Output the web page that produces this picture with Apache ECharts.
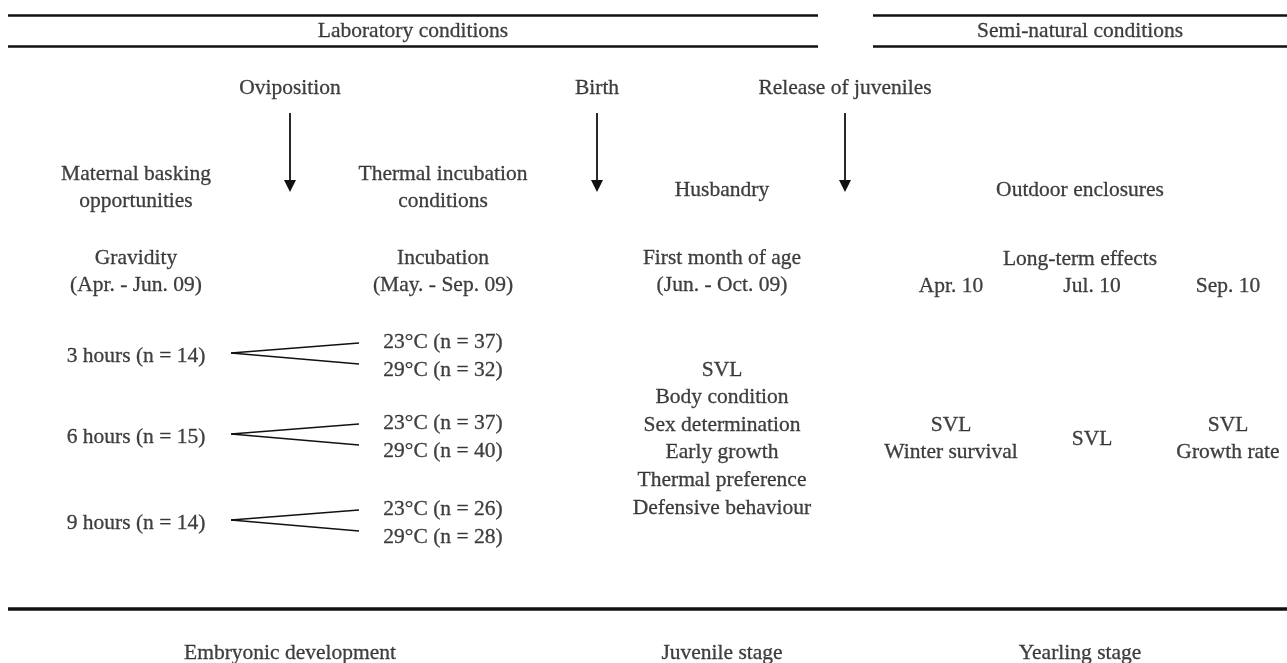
<!DOCTYPE html>
<html>
<head>
<meta charset="utf-8">
<script src="https://cdn.jsdelivr.net/npm/echarts@6/dist/echarts.min.js"></script>
<style>
  html, body { margin: 0; padding: 0; background: #fff; }
  #main { width: 1287px; height: 663px; }
</style>
</head>
<body>
<div id="main"></div>
<script>
// texts of the diagram
var sectionTitles = ['Laboratory conditions', 'Semi-natural conditions'];
var events = ['Oviposition', 'Birth', 'Release of juveniles'];
var factorTitles = ['Maternal basking\nopportunities', 'Thermal incubation\nconditions', 'Husbandry', 'Outdoor enclosures'];
var periodTitles = ['Gravidity\n(Apr. - Jun. 09)', 'Incubation\n(May. - Sep. 09)', 'First month of age\n(Jun. - Oct. 09)', 'Long-term effects'];
var outdoorDates = ['Apr. 10', 'Jul. 10', 'Sep. 10'];
var baskingGroups = ['3 hours (n = 14)', '6 hours (n = 15)', '9 hours (n = 14)'];
var incubationGroups = [
  ['23°C (n = 37)', '29°C (n = 32)'],
  ['23°C (n = 37)', '29°C (n = 40)'],
  ['23°C (n = 26)', '29°C (n = 28)']
];
var juvenileTraits = ['SVL', 'Body condition', 'Sex determination', 'Early growth', 'Thermal preference', 'Defensive behaviour'];
var outdoorTraits = ['SVL\nWinter survival', 'SVL', 'SVL\nGrowth rate'];
var stages = ['Embryonic development', 'Juvenile stage', 'Yearling stage'];

// layout on the hidden axes (x right, y down, in px of the picture)
var colBask = 136, colInc = 443, colJuv = 722, colOut = 1080;
var dateCols = [951, 1092, 1228];
var arrowCols = [290, 597, 845];
var groupRows = [356, 437, 523];

var texts = [];
function put(x, y, t) { texts.push({ value: [x, y], label: { formatter: t } }); }

put(413, 31, sectionTitles[0]);
put(1080, 31, sectionTitles[1]);
events.forEach(function (t, i) { put(arrowCols[i], 88, t); });
put(colBask, 188, factorTitles[0]);
put(colInc, 188, factorTitles[1]);
put(colJuv, 190, factorTitles[2]);
put(colOut, 190, factorTitles[3]);
put(colBask, 272, periodTitles[0]);
put(colInc, 272, periodTitles[1]);
put(colJuv, 272, periodTitles[2]);
put(colOut, 259, periodTitles[3]);
outdoorDates.forEach(function (t, i) { put(dateCols[i], 286, t); });

var branchLines = [];
baskingGroups.forEach(function (t, i) {
  var y = groupRows[i];
  put(colBask, y, t);
  put(colInc, y - 14, incubationGroups[i][0]);
  put(colInc, y + 14, incubationGroups[i][1]);
  branchLines.push({ coords: [[231, y - 3], [359, y - 13]] });
  branchLines.push({ coords: [[231, y - 3], [359, y + 8]] });
});

juvenileTraits.forEach(function (t, i) { put(colJuv, 370 + i * 27.6, t); });
outdoorTraits.forEach(function (t, i) { put(dateCols[i], 439, t); });
stages.forEach(function (t, i) { put([290, colJuv, colOut][i], 653, t); });

var arrows = arrowCols.map(function (x) { return { coords: [[x, 113], [x, 186]] }; });
var rules = [
  { coords: [[8, 15], [818, 15]] }, { coords: [[8, 46], [818, 46]] },
  { coords: [[873, 15], [1287, 15]] }, { coords: [[873, 46], [1287, 46]] }
];
var bottomRule = [{ coords: [[8, 609], [1287, 609]] }];

var ink = '#111';
var chart = echarts.init(document.getElementById('main'));
chart.setOption({
  animation: false,
  grid: { left: 0, right: 0, top: 0, bottom: 0 },
  xAxis: { type: 'value', min: 0, max: 1287, show: false },
  yAxis: { type: 'value', min: 0, max: 663, inverse: true, show: false },
  series: [
    {
      type: 'scatter', silent: true, symbolSize: 1,
      itemStyle: { color: 'rgba(0,0,0,0)' },
      label: {
        show: true, position: 'inside', align: 'center', verticalAlign: 'middle',
        fontFamily: 'Liberation Serif', fontSize: 21.5, color: ink, lineHeight: 27,
        textBorderColor: ink, textBorderWidth: 0.3
      },
      data: texts
    },
    {
      type: 'lines', coordinateSystem: 'cartesian2d', silent: true,
      lineStyle: { color: ink, width: 1.6, opacity: 1 },
      data: branchLines
    },
    {
      type: 'lines', coordinateSystem: 'cartesian2d', silent: true,
      symbol: ['none', 'triangle'], symbolSize: [13, 12],
      lineStyle: { color: ink, width: 1.8, opacity: 1 },
      data: arrows
    },
    {
      type: 'lines', coordinateSystem: 'cartesian2d', silent: true,
      lineStyle: { color: ink, width: 2.5, opacity: 1 },
      data: rules
    },
    {
      type: 'lines', coordinateSystem: 'cartesian2d', silent: true,
      lineStyle: { color: ink, width: 3.5, opacity: 1 },
      data: bottomRule
    }
  ]
});
</script>
</body>
</html>
